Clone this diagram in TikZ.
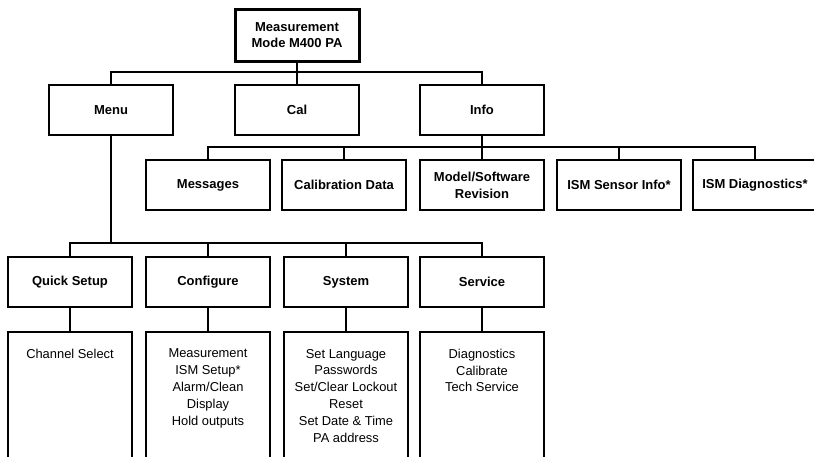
\documentclass[tikz,border=0pt]{standalone}
\usepackage{fontspec}
\setmainfont{Liberation Sans}
\begin{document}
\begin{tikzpicture}[x=1pt, y=-1pt,
  every node/.style={inner sep=0pt, outer sep=0pt},
  box/.style={draw=black, line width=1.3pt, rectangle, minimum width=124pt, minimum height=50pt,
    align=center, font=\fontsize{13}{16.8}\selectfont\bfseries},
  rootbox/.style={box, line width=3pt, minimum width=124pt, minimum height=52pt},
  listbox/.style={draw=black, line width=1.3pt, rectangle, minimum width=124pt, minimum height=150pt, anchor=north},
  listtext/.style={align=center, anchor=north, font=\fontsize{12.9}{16.8}\selectfont},
  link/.style={draw=black, line width=1.3pt}
]
\useasboundingbox (0,0) rectangle (814,456);
\clip (0,0) rectangle (814,456);

% bus levels
\coordinate (b1) at (0,72);
\coordinate (b2) at (0,147);
\coordinate (b3) at (0,243);

% root
\node[rootbox] (root) at (297,35) {Measurement\\Mode M400 PA};

% first level
\node[box] (menu) at (111,110) {Menu};
\node[box] (cal)  at (297,110) {Cal};
\node[box] (info) at (482,110) {Info};

% info sub-items
\node[box] (msg)    at (208,185) {Messages};
\node[box] (cdata)  at (344,185) {Calibration Data};
\node[box] (model)  at (482,185) {Model/Software\\Revision};
\node[box] (sensor) at (619,185) {ISM Sensor Info*};
\node[box] (diag)   at (755,185) {ISM Diagnostics*};

% menu sub-items
\node[box] (quick) at (70,282)  {Quick Setup};
\node[box] (conf)  at (208,282) {Configure};
\node[box] (sys)   at (346,282) {System};
\node[box] (serv)  at (482,282) {Service};

% lists under the menu sub-items
\node[listbox] (quickl) at (70,332)  {};
\node[listbox] (confl)  at (208,332) {};
\node[listbox] (sysl)   at (346,332) {};
\node[listbox] (servl)  at (482,332) {};

\node[listtext] (quickt) at ([yshift=-17pt]quickl.north) {Channel Select};
\node[listtext] (conft)  at ([yshift=-17pt]confl.north)
  {Measurement\\ISM Setup*\\Alarm/Clean\\Display\\Hold outputs};
\node[listtext] (syst)   at ([yshift=-17pt]sysl.north)
  {Set Language\\Passwords\\Set/Clear Lockout\\Reset\\Set Date \& Time\\PA address};
\node[listtext] (servt)  at ([yshift=-17pt]servl.north)
  {Diagnostics\\Calibrate\\Tech Service};

% connectors: root to first level
\draw[link] (root.south) -- (cal.north);
\draw[link] (menu.north) -- (menu.north |- b1) -| (info.north);

% info to its sub-items
\draw[link] (info.south) -- (model.north);
\draw[link] (msg.north) -- (msg.north |- b2) -| (diag.north);
\draw[link] (cdata.north) -- (cdata.north |- b2);
\draw[link] (sensor.north) -- (sensor.north |- b2);

% menu to its sub-items
\draw[link] (menu.south) -- (menu.south |- b3);
\draw[link] (quick.north) -- (quick.north |- b3) -| (serv.north);
\draw[link] (conf.north) -- (conf.north |- b3);
\draw[link] (sys.north) -- (sys.north |- b3);

% sub-items to their lists
\draw[link] (quick.south) -- (quickl.north);
\draw[link] (conf.south) -- (confl.north);
\draw[link] (sys.south) -- (sysl.north);
\draw[link] (serv.south) -- (servl.north);
\end{tikzpicture}
\end{document}
